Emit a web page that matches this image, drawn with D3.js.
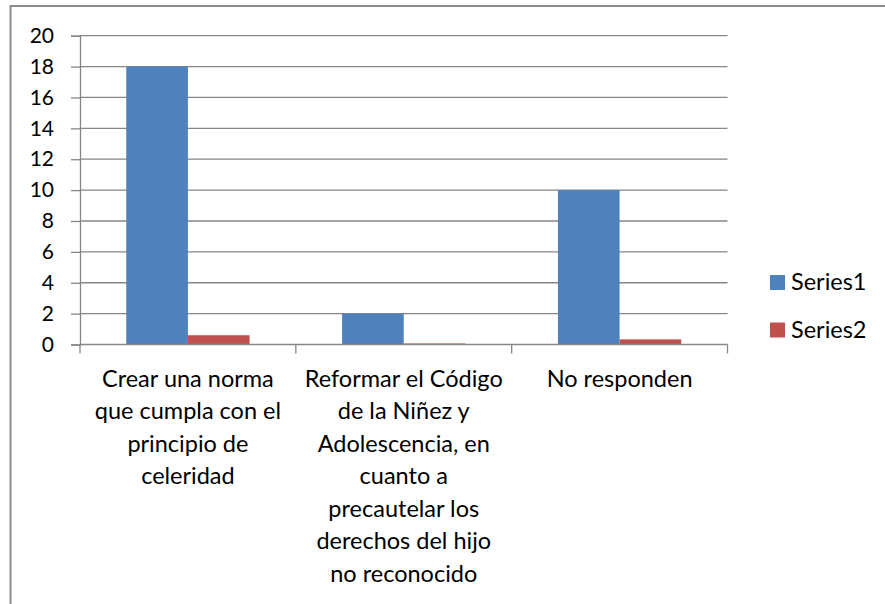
<!DOCTYPE html>
<html>
<head>
<meta charset="utf-8">
<script src="https://cdn.jsdelivr.net/npm/d3@7"></script>
<style>
  html, body { margin: 0; padding: 0; background: #fff; }
  svg { display: block; }
  text { font-family: Lato, "Open Sans", sans-serif; fill: #000; }
</style>
</head>
<body>
<svg id="chart" width="885" height="604"></svg>
<script>
const categories = [
  ["Crear una norma", "que cumpla con el", "principio de", "celeridad"],
  ["Reformar el Código", "de la Niñez y", "Adolescencia, en", "cuanto a", "precautelar los", "derechos del hijo", "no reconocido"],
  ["No responden"]
];
const seriesNames = ["Series1", "Series2"];
const series1 = [18, 2, 10];
const series2 = [0.6, 0.0667, 0.3333];
const yTicks = [0, 2, 4, 6, 8, 10, 12, 14, 16, 18, 20];
const colors = ["#4F81BD", "#C0504D"];

const svg = d3.select("#chart");
const W = 885, H = 604;
const tickFont = 21;
const labelFont = 23.5;

// outer frame
svg.append("rect")
  .attr("x", 10.5).attr("y", 6).attr("width", W + 10).attr("height", H + 10)
  .attr("fill", "#fff").attr("stroke", "#8c8c8c").attr("stroke-width", 2);

const plot = { left: 80, right: 727.5, top: 35.7, bottom: 344.5 };

const x = d3.scaleBand().domain(d3.range(categories.length))
  .range([plot.left, plot.right]).paddingInner(0).paddingOuter(0);
const y = d3.scaleLinear().domain([0, 20]).range([plot.bottom, plot.top]);

// gridlines
svg.append("g").selectAll("line").data(yTicks.filter(d => d > 0)).join("line")
  .attr("x1", plot.left).attr("x2", plot.right)
  .attr("y1", d => y(d)).attr("y2", d => y(d))
  .attr("stroke", "#868686").attr("stroke-width", 1.3);

// bars
const bandW = x.bandwidth();
const barW = bandW / 3.5;
const data = [series1, series2];
data.forEach((vals, si) => {
  svg.append("g").selectAll("rect").data(vals).join("rect")
    .attr("x", (d, i) => x(i) + bandW / 2 - barW + si * barW)
    .attr("width", barW)
    .attr("y", d => y(d))
    .attr("height", d => y(0) - y(d))
    .attr("fill", colors[si]);
});

// y axis
const yAxis = d3.axisLeft(y).tickValues(yTicks).tickSize(9).tickPadding(17).tickFormat(d3.format("d"));
const gy = svg.append("g").attr("transform", `translate(${plot.left},0)`).call(yAxis);
gy.select(".domain").attr("stroke", "#868686").attr("stroke-width", 1.3);
gy.selectAll(".tick line").attr("stroke", "#868686").attr("stroke-width", 1.3);
gy.selectAll(".tick text").attr("font-size", tickFont).attr("font-family", "Lato, sans-serif").attr("fill", "#000");

// x axis line and ticks at band boundaries
svg.append("line")
  .attr("x1", plot.left).attr("x2", plot.right)
  .attr("y1", plot.bottom).attr("y2", plot.bottom)
  .attr("stroke", "#868686").attr("stroke-width", 1.3);
const boundaries = d3.range(categories.length + 1).map(i => i < categories.length ? x(i) : plot.right);
svg.append("g").selectAll("line").data(boundaries).join("line")
  .attr("x1", d => d).attr("x2", d => d)
  .attr("y1", plot.bottom).attr("y2", plot.bottom + 9)
  .attr("stroke", "#868686").attr("stroke-width", 1.3);

// category labels
const lineH = 32.5;
categories.forEach((lines, i) => {
  const t = svg.append("text")
    .attr("x", x(i) + bandW / 2)
    .attr("y", 386.5)
    .attr("text-anchor", "middle")
    .attr("font-size", labelFont);
  lines.forEach((ln, j) => {
    t.append("tspan").attr("x", x(i) + bandW / 2).attr("y", 386.5 + j * lineH).text(ln);
  });
});

// legend
const legend = svg.append("g");
seriesNames.forEach((name, i) => {
  const ly = 275 + i * 47.5;
  legend.append("rect").attr("x", 770).attr("y", ly).attr("width", 15).attr("height", 15).attr("fill", colors[i]);
  legend.append("text").attr("x", 791).attr("y", ly + 15).attr("font-size", labelFont).text(name);
});
</script>
</body>
</html>
